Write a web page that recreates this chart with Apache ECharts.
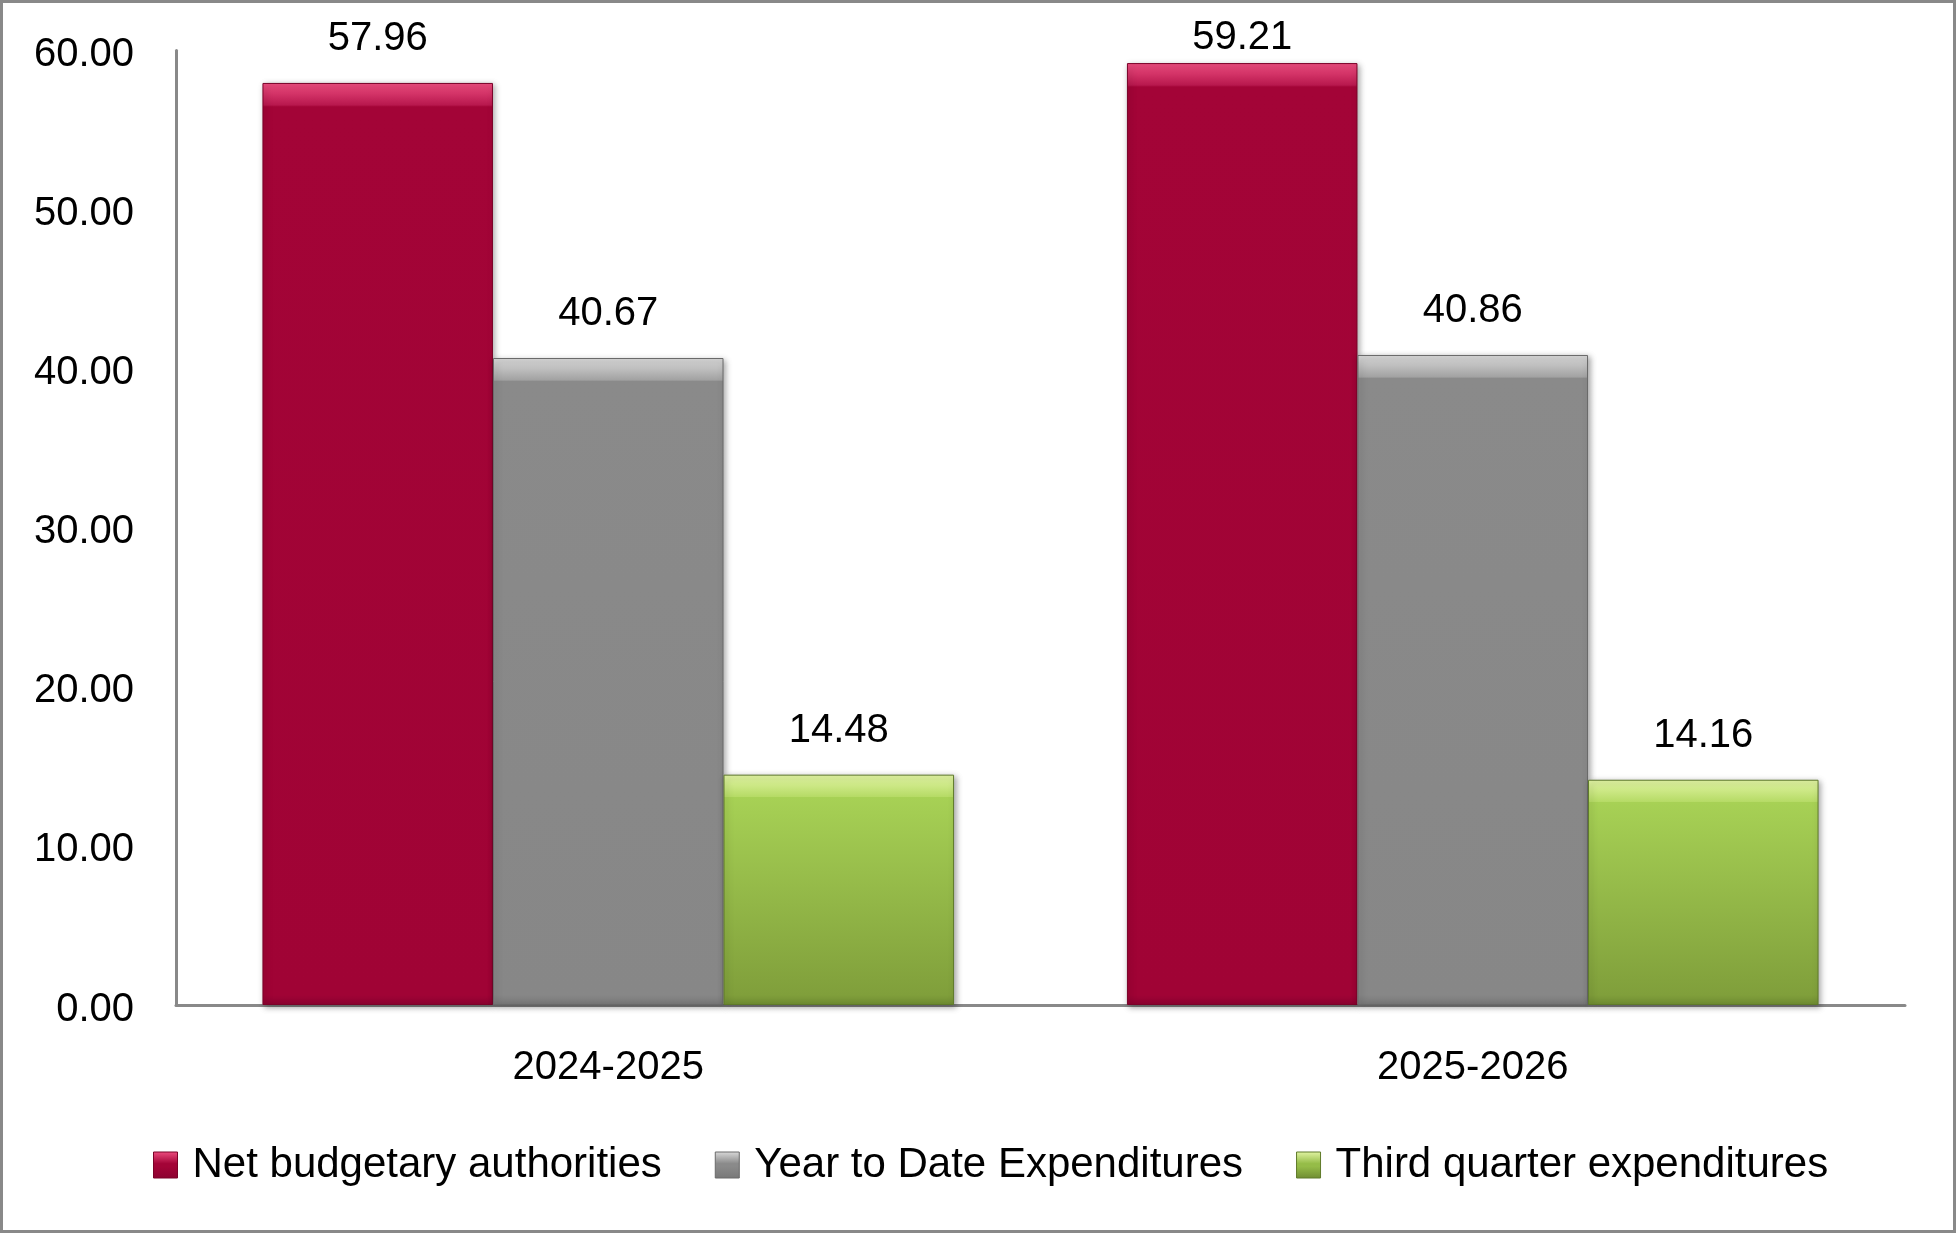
<!DOCTYPE html>
<html><head><meta charset="utf-8">
<script src="https://cdn.jsdelivr.net/npm/echarts@6/dist/echarts.min.js"></script>
<style>html,body{margin:0;padding:0;background:#fff}#c{width:1956px;height:1233px}</style>
</head><body><div id="c"></div>
<script>
const categories = ['2024-2025', '2025-2026'];
const seriesNames = ['Net budgetary authorities', 'Year to Date Expenditures', 'Third quarter expenditures'];
const netBudgetary = [57.96, 59.21];
const yearToDate = [40.67, 40.86];
const thirdQuarter = [14.48, 14.16];
const yMin = 0, yMax = 60, yInterval = 10;

const FONT = 'Liberation Sans';
const palettes = [
  {topHi: '#EE4E80', topLo: '#B8184E', base: '#A30437', baseBot: '#A00335', bot: '#8C0230', border: '#7A0228', legendMid: '#A30437'},
  {topHi: '#DADADA', topLo: '#A2A2A2', base: '#8A8A8A', baseBot: '#878787', bot: '#777777', border: '#6A6A6A', legendMid: '#8A8A8A'},
  {topHi: '#E2F5A4', topLo: '#B6DB66', base: '#A7D155', baseBot: '#809F3B', bot: '#6F8C32', border: '#5F7A2A', legendMid: '#95BC48'}
];
const values = [netBudgetary, yearToDate, thirdQuarter];

function barGradient(p, f, fb) {
  return new echarts.graphic.LinearGradient(0, 0, 0, 1, [
    {offset: 0, color: p.topHi},
    {offset: f, color: p.topLo},
    {offset: Math.min(f + 0.002, 1), color: p.base},
    {offset: Math.max(1 - fb, f + 0.003), color: p.baseBot},
    {offset: 1, color: p.bot}
  ]);
}
function legendGradient(p) {
  return new echarts.graphic.LinearGradient(0, 0, 0, 1, [
    {offset: 0, color: p.topHi},
    {offset: 0.45, color: p.legendMid},
    {offset: 0.55, color: p.legendMid},
    {offset: 1, color: p.bot}
  ]);
}

const chart = echarts.init(document.getElementById('c'), null, {renderer: 'canvas'});

function buildSeries(pxPerUnit) {
  return seriesNames.map((name, si) => ({
    name: name,
    type: 'bar',
    barGap: '0%',
    barCategoryGap: '20%',
    itemStyle: {
      color: palettes[si].base,
      borderColor: palettes[si].border,
      borderWidth: 1,
      shadowBlur: 6,
      shadowColor: 'rgba(0,0,0,0.35)',
      shadowOffsetX: 2,
      shadowOffsetY: 2
    },
    label: {
      show: true,
      position: 'top',
      distance: 24,
      color: '#000',
      fontFamily: FONT,
      fontSize: 40,
      formatter: (d) => d.value.toFixed(2)
    },
    data: values[si].map((v) => {
      const h = pxPerUnit ? v * pxPerUnit : 500;
      const f = Math.min(22 / h, 0.4);
      const fb = Math.min(10 / h, 0.2);
      const item = {value: v, itemStyle: {color: barGradient(palettes[si], f, fb)}};
      if (pxPerUnit) {
        const barTop = chart.convertToPixel({yAxisIndex: 0}, v);
        const labelTop = barTop - 24 - 44;
        const minTop = 14;
        if (labelTop < minTop) {
          item.label = {distance: Math.max(2, 24 - (minTop - labelTop))};
        }
      }
      return item;
    })
  }));
}

const option = {
  animation: false,
  backgroundColor: '#fff',
  textStyle: {fontFamily: FONT},
  graphic: [{
    type: 'rect',
    shape: {x: 1.5, y: 1.5, width: 1953, height: 1230},
    style: {fill: 'none', stroke: '#898989', lineWidth: 3},
    z: 100
  }],
  grid: {left: 176, right: 51, top: 50.5, bottom: 228, containLabel: false},
  legend: {
    left: 148,
    top: 1139,
    itemWidth: 24,
    itemHeight: 26,
    itemGap: 53,
    icon: 'rect',
    textStyle: {fontFamily: FONT, fontSize: 42, color: '#000', padding: [0, 0, 0, 10]},
    data: seriesNames.map((n, i) => ({name: n, itemStyle: {color: legendGradient(palettes[i]), borderColor: palettes[i].border, borderWidth: 1}}))
  },
  xAxis: {
    type: 'category',
    data: categories,
    axisLine: {show: true, lineStyle: {color: '#898989', width: 3}},
    axisTick: {show: false},
    axisLabel: {color: '#000', fontFamily: FONT, fontSize: 40, margin: 43},
    splitLine: {show: false}
  },
  yAxis: {
    type: 'value',
    min: yMin,
    max: yMax,
    interval: yInterval,
    axisLine: {show: true, lineStyle: {color: '#898989', width: 3}},
    axisTick: {show: false},
    splitLine: {show: false},
    axisLabel: {
      color: '#000', fontFamily: FONT, fontSize: 40, margin: 42,
      formatter: (v) => '{t|' + v.toFixed(2) + '}',
      rich: {t: {fontFamily: FONT, fontSize: 40, color: '#000', padding: [9, 0, 0, 0]}}
    }
  },
  series: buildSeries(0)
};
chart.setOption(option);
const pxPerUnit = (chart.convertToPixel({yAxisIndex: 0}, 0) - chart.convertToPixel({yAxisIndex: 0}, 10)) / 10;
chart.setOption({series: buildSeries(pxPerUnit)});
</script>
</body></html>
